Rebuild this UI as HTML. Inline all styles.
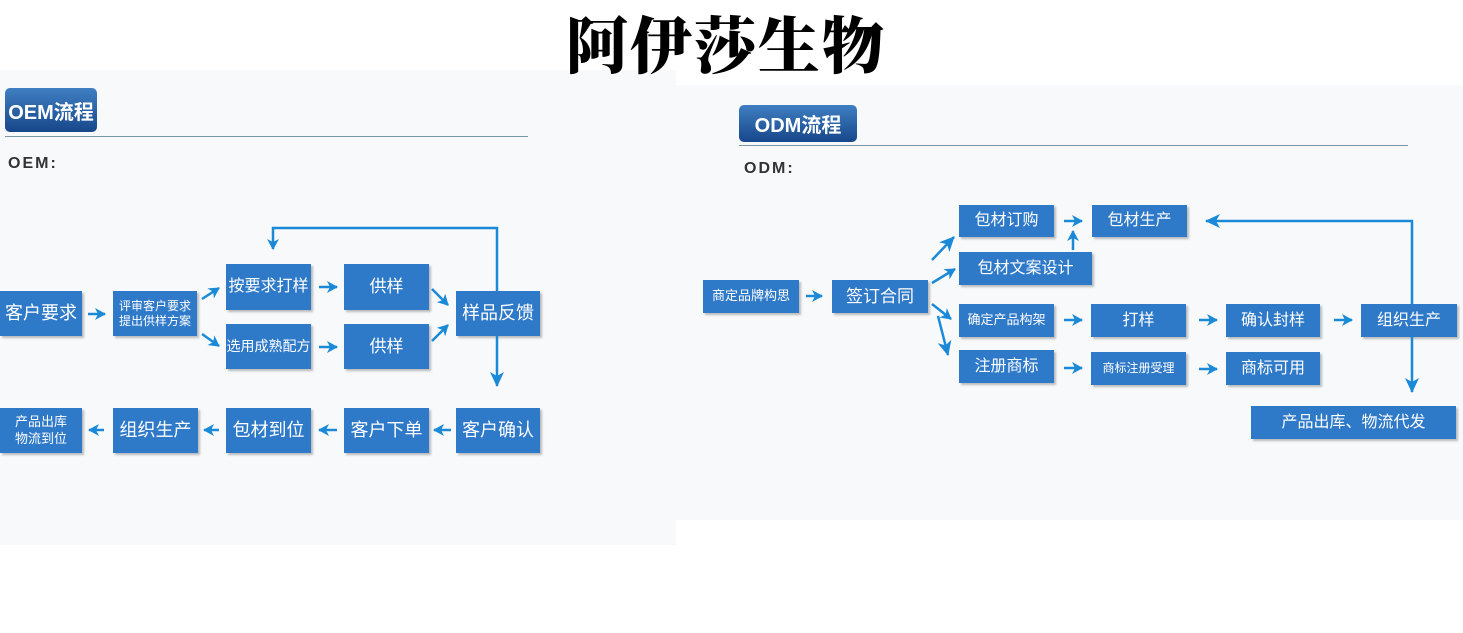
<!DOCTYPE html>
<html><head><meta charset="utf-8"><style>
body{margin:0;width:1463px;height:633px;background:#fff;position:relative;overflow:hidden;font-family:"Liberation Sans","Noto Sans CJK SC",sans-serif}
.p{position:absolute;background:#f7f9fa}
.b{position:absolute;background:#2f79c9;color:#fff;display:flex;align-items:center;justify-content:center;text-align:center;box-shadow:2px 2px 2px rgba(0,0,0,.25);line-height:1.25;white-space:nowrap}
.h{position:absolute;background:linear-gradient(#3f7fc2,#17478a);color:#fff;font-weight:bold;border-radius:5px;display:flex;align-items:center;justify-content:center;font-size:20px;white-space:nowrap}
.t{position:absolute;font-weight:bold;color:#333;font-size:16px;letter-spacing:2px}
svg{position:absolute;left:0;top:0}
</style></head><body>
<div class="p" style="left:0;top:70px;width:676px;height:475px"></div>
<div class="p" style="left:676px;top:85px;width:787px;height:435px"></div>
<div style="position:absolute;left:566px;top:2px;width:335px;font-family:'Noto Serif CJK SC',serif;font-weight:900;font-size:62px;letter-spacing:2px;color:#000;line-height:80px">阿伊莎生物</div>

<div class="h" style="left:5px;top:88px;width:92px;height:44px">OEM流程</div>
<div style="position:absolute;left:5px;top:136px;width:523px;height:1px;background:#7b96a8"></div>
<div class="t" style="left:8px;top:155px">OEM:</div>

<div class="b" style="left:0;top:291px;width:82px;height:45px;font-size:18px">客户要求</div>
<div class="b" style="left:113px;top:291px;width:84px;height:45px;font-size:12px">评审客户要求<br>提出供样方案</div>
<div class="b" style="left:226px;top:264px;width:85px;height:46px;font-size:16px">按要求打样</div>
<div class="b" style="left:344px;top:264px;width:85px;height:46px;font-size:17px">供样</div>
<div class="b" style="left:226px;top:324px;width:85px;height:45px;font-size:14px">选用成熟配方</div>
<div class="b" style="left:344px;top:324px;width:85px;height:45px;font-size:17px">供样</div>
<div class="b" style="left:456px;top:291px;width:84px;height:45px;font-size:18px">样品反馈</div>
<div class="b" style="left:0;top:408px;width:82px;height:45px;font-size:13px">产品出库<br>物流到位</div>
<div class="b" style="left:113px;top:408px;width:85px;height:45px;font-size:18px">组织生产</div>
<div class="b" style="left:226px;top:408px;width:85px;height:45px;font-size:18px">包材到位</div>
<div class="b" style="left:344px;top:408px;width:85px;height:45px;font-size:18px">客户下单</div>
<div class="b" style="left:456px;top:408px;width:84px;height:45px;font-size:18px">客户确认</div>

<div class="h" style="left:739px;top:105px;width:118px;height:37px">ODM流程</div>
<div style="position:absolute;left:739px;top:145px;width:669px;height:1px;background:#7b96a8"></div>
<div class="t" style="left:744px;top:160px">ODM:</div>

<div class="b" style="left:703px;top:280px;width:96px;height:33px;font-size:13px">商定品牌构思</div>
<div class="b" style="left:832px;top:280px;width:96px;height:33px;font-size:17px">签订合同</div>
<div class="b" style="left:959px;top:205px;width:95px;height:32px;font-size:16px">包材订购</div>
<div class="b" style="left:1092px;top:205px;width:95px;height:32px;font-size:16px">包材生产</div>
<div class="b" style="left:959px;top:252px;width:133px;height:33px;font-size:16px">包材文案设计</div>
<div class="b" style="left:959px;top:304px;width:95px;height:33px;font-size:13px">确定产品构架</div>
<div class="b" style="left:1091px;top:304px;width:95px;height:33px;font-size:16px">打样</div>
<div class="b" style="left:1226px;top:304px;width:94px;height:33px;font-size:16px">确认封样</div>
<div class="b" style="left:1361px;top:304px;width:96px;height:33px;font-size:16px">组织生产</div>
<div class="b" style="left:959px;top:350px;width:95px;height:33px;font-size:16px">注册商标</div>
<div class="b" style="left:1091px;top:352px;width:95px;height:33px;font-size:12px">商标注册受理</div>
<div class="b" style="left:1226px;top:352px;width:94px;height:33px;font-size:16px">商标可用</div>
<div class="b" style="left:1251px;top:406px;width:205px;height:33px;font-size:16px">产品出库、物流代发</div>

<svg width="1463" height="633" viewBox="0 0 1463 633">
<defs><marker id="a" markerWidth="12" markerHeight="12" refX="10" refY="6" orient="auto" markerUnits="userSpaceOnUse"><path d="M0,0 L11,6 L0,12 L3,6z" fill="#1a8ad8"/></marker>
<marker id="A" markerWidth="16" markerHeight="14" refX="14" refY="7" orient="auto" markerUnits="userSpaceOnUse"><path d="M0,0 L15,7 L0,14 L4,7z" fill="#1a8ad8"/></marker></defs>
<g stroke="#1a8ad8" stroke-width="2.5" fill="none" marker-end="url(#a)">
<path d="M88,314 H105"/>
<path d="M202,299 L219,288"/><path d="M202,334 L219,346"/>
<path d="M319,287 H337"/><path d="M319,347 H337"/>
<path d="M432,289 L448,305"/><path d="M432,341 L448,325"/>
<path d="M497,291 V228 H273 V249"/>
<path d="M497,336 V386" marker-end="url(#A)"/>
<path d="M451,430 H434"/><path d="M337,430 H319"/><path d="M219,430 H204"/><path d="M104,430 H89"/>
<path d="M806,296 H822"/>
<path d="M932,260 L954,237" marker-end="url(#A)"/>
<path d="M932,283 L955,269"/>
<path d="M932,304 L951,319"/>
<path d="M938,316 L948,355" marker-end="url(#A)"/>
<path d="M1064,221 H1082"/><path d="M1073,250 V231"/>
<path d="M1064,320 H1082"/><path d="M1199,320 H1217"/><path d="M1334,320 H1352"/>
<path d="M1064,368 H1082"/><path d="M1199,369 H1217"/>
<path d="M1412,304 V221 H1206" marker-end="url(#A)"/>
<path d="M1412,337 V392" marker-end="url(#A)"/>
</g></svg>
</body></html>
